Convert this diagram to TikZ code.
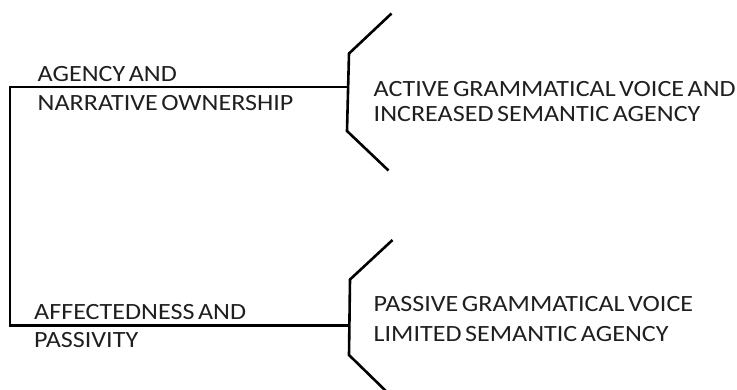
\documentclass[tikz,border=0pt]{standalone}
\usepackage{fontspec}
\setmainfont{Carlito}[FakeStretch=1.12,WordSpace=0.6]
\begin{document}
\begin{tikzpicture}[x=1pt,y=-1pt,
  lbl/.style={inner sep=0pt, anchor=base west, text=black!88, font=\fontsize{23.3}{27}\selectfont},
  ln/.style={line width=2.6pt, black, line cap=butt, line join=miter}]
\useasboundingbox (0,0) rectangle (737,389);
\clip (0,0) rectangle (737,389);
% left tree
\coordinate (top) at (10,87);
\coordinate (bot) at (10,325.5);
\coordinate (tj) at (348,87);
\coordinate (bj) at (349.5,325.5);
\draw[ln] (tj) -- (top) -- (bot) -- (bj);
% brackets
\coordinate (b1a) at (391.5,13.5);
\coordinate (b1b) at (349,53.5);
\coordinate (b1c) at (347,131);
\coordinate (b1d) at (388.5,170.5);
\draw[ln] (b1a) -- (b1b) -- (b1c) -- (b1d);
\coordinate (b2a) at (392.5,240);
\coordinate (b2b) at (350,279.5);
\coordinate (b2c) at (349,355);
\coordinate (b2d) at (390,395);
\draw[ln] (b2a) -- (b2b) -- (b2c) -- (b2d);
% labels
\node[lbl] (t1) at (37.5,81) {AGENCY AND};
\node[lbl] (t2) at (37.5,110) {NARRATIVE OWNERSHIP};
\node[lbl] (t3) at (34,319) {AFFECTEDNESS AND};
\node[lbl] (t4) at (34,347.5) {PASSIVITY};
\node[lbl] (r1) at (373.5,96.7) {ACTIVE GRAMMATICAL VOICE AND};
\node[lbl] (r2) at (373.5,121) {INCREASED SEMANTIC AGENCY};
\node[lbl] (r3) at (373.5,311.7) {PASSIVE GRAMMATICAL VOICE};
\node[lbl] (r4) at (373.5,341) {LIMITED SEMANTIC AGENCY};
\end{tikzpicture}
\end{document}
